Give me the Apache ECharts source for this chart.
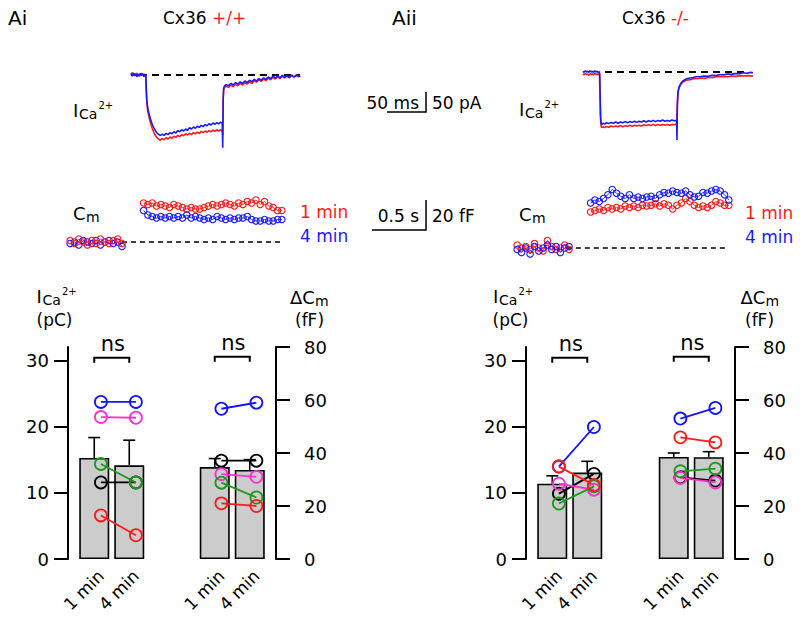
<!DOCTYPE html>
<html><head><meta charset="utf-8">
<script src="https://cdn.jsdelivr.net/npm/echarts@6/dist/echarts.min.js"></script>
<style>html,body{margin:0;padding:0;background:#fff}#c{width:800px;height:622px}</style>
</head><body><div id="c"></div>
<script>
// ================= DATA =================
const conditions = ['1 min', '4 min'];
// cell colours / drawing order used in the paired plots
const cellColors = ['#1414ff', '#000000', '#ff30d0', '#1a9a1a', '#ff1a1a'];

// ---- bar panels (values per cell: [1 min, 4 min]) ----
const wtIcaMean = [15.3, 14.2];
const wtIcaSem = [3.1, 3.8];
const wtIcaCells = [[23.8, 23.8], [11.6, 11.6], [21.5, 21.4], [14.4, 11.6], [6.6, 3.6]];
const wtCmMean = [34.7, 33.6];
const wtCmSem = [3.2, 3.9];
const wtCmCells = [[56.7, 59.0], [37.1, 37.1], [32.0, 31.0], [28.8, 23.2], [21.0, 20.0]];
const koIcaMean = [11.4, 13.1];
const koIcaSem = [1.2, 1.7];
const koIcaCells = [[14.0, 20.0], [9.9, 12.9], [11.4, 10.5], [8.4, 11.0], [14.0, 11.2]];
const koCmMean = [38.5, 38.4];
const koCmSem = [1.5, 2.1];
const koCmCells = [[53.0, 57.0], [30.8, 29.6], [30.6, 28.9], [33.1, 34.1], [45.9, 44.0]];
const icaTicks = [0, 10, 20, 30];
const cmTicks = [0, 20, 40, 60, 80];
const sigLabel = 'ns';

// ---- current traces [ms, pA] ----
const wtCurBlue = [[0,4],[1.5,-3],[3,5],[4.5,-2],[6,3],[7.5,-4],[9,2],[10.5,-3],[12,4],[13.5,-1],[15,3],[16.5,-4],[18,2],[19,0],
[19.6,-35],[20.3,-65],[21.3,-80],[22.5,-92],[25,-110],[27.5,-125],[30,-135],[32.5,-143],[35,-148],[37.5,-151],[40,-148],[42.5,-151],[45,-146],[47.5,-149],[50,-144],[52.5,-147],[55,-142],[57.5,-145],[60,-139],[62.5,-142],[65,-137],[67.5,-140],[70,-135],[72.5,-138],[75,-132],[77.5,-135],[80,-130],[82.5,-133],[85,-128],[87.5,-131],[90,-126],[92.5,-129],[95,-124],[97.5,-127],[100,-122],[102.5,-125],[105,-120],[107.5,-123],[110,-119],[112.5,-122],[115,-118],[117,-121],
[117.6,-182],[118.2,-60],[118.8,-32],[120,-27],[122,-24],[125,-27],[128,-21],[131,-25],[134,-19],[137,-23],[140,-17],[143,-21],[146,-15],[149,-19],[152,-13],[155,-17],[158,-11],[161,-15],[164,-9],[167,-13],[170,-7],[173,-11],[176,-5],[179,-9],[182,-3],[185,-8],[188,-2],[191,-7],[194,-1],[197,-6],[200,-2],[203,-7],[206,0],[209,-5],[212,-1],[215,-4],[217,-2]];
const wtCurRed = [[0,2],[1.5,6],[3,-2],[4.5,4],[6,-1],[7.5,5],[9,-3],[10.5,3],[12,-2],[13.5,5],[15,-1],[16.5,2],[18,-3],[19,0],
[19.6,-40],[20.3,-70],[21.3,-88],[22.5,-100],[25,-120],[27.5,-135],[30,-147],[32.5,-155],[35,-160],[37.5,-163],[40,-159],[42.5,-162],[45,-157],[47.5,-160],[50,-155],[52.5,-158],[55,-153],[57.5,-156],[60,-151],[62.5,-154],[65,-149],[67.5,-152],[70,-147],[72.5,-150],[75,-146],[77.5,-149],[80,-144],[82.5,-147],[85,-143],[87.5,-146],[90,-141],[92.5,-144],[95,-140],[97.5,-143],[100,-139],[102.5,-142],[105,-138],[107.5,-141],[110,-137],[112.5,-140],[115,-137],[117,-139],
[117.6,-150],[118.2,-58],[118.8,-36],[120,-31],[122,-28],[125,-31],[128,-25],[131,-29],[134,-23],[137,-27],[140,-21],[143,-25],[146,-19],[149,-23],[152,-17],[155,-21],[158,-14],[161,-18],[164,-12],[167,-16],[170,-10],[173,-14],[176,-8],[179,-12],[182,-6],[185,-10],[188,-4],[191,-9],[194,-3],[197,-7],[200,-2],[203,-6],[206,-1],[209,-5],[212,0],[215,-4],[217,-2]];
const koCurBlue = [[0,2],[1.5,-1],[3,3],[4.5,0],[6,2],[7.5,-1],[9,3],[10.5,0],[12,2],[13.5,-1],[15,3],[16.5,0],[18,2],[19.5,-1],[21,1],[21.6,0],
[22,-60],[22.5,-110],[23.2,-128],[24,-131],[26,-128],[28,-130],[30,-127],[33,-129],[36,-126],[39,-128],[42,-125],[45,-128],[48,-125],[51,-127],[54,-124],[57,-127],[60,-124],[63,-126],[66,-123],[69,-126],[72,-123],[75,-125],[78,-122],[81,-125],[84,-122],[87,-124],[90,-121],[93,-124],[96,-121],[99,-123],[102,-120],[105,-123],[108,-121],[111,-123],[114,-120],[117,-122],[120,-121],
[120.5,-170],[121,-80],[121.8,-50],[123,-38],[125,-30],[127,-24],[130,-20],[133,-17],[137,-15],[141,-14],[145,-12],[150,-12],[155,-10],[160,-11],[165,-8],[170,-9],[175,-7],[180,-7],[185,-5],[190,-6],[195,-4],[200,-4],[205,-2],[210,-3],[215,-1],[218,-2]];
const koCurRed = [[0,-5],[1.5,-7],[3,-4],[4.5,-6],[6,-5],[7.5,-8],[9,-4],[10.5,-6],[12,-5],[13.5,-7],[15,-3],[16.5,-6],[18,-5],[19.5,-7],[21,-4],[21.6,-6],
[22,-70],[22.5,-118],[23.2,-136],[24,-139],[26,-137],[28,-139],[30,-136],[33,-138],[36,-135],[39,-137],[42,-135],[45,-137],[48,-134],[51,-137],[54,-134],[57,-136],[60,-133],[63,-136],[66,-133],[69,-135],[72,-133],[75,-135],[78,-132],[81,-134],[84,-132],[87,-134],[90,-131],[93,-134],[96,-131],[99,-133],[102,-131],[105,-133],[108,-131],[111,-133],[114,-131],[117,-132],[120,-131],
[120.7,-90],[121.5,-58],[122.5,-44],[124,-36],[126,-29],[128,-25],[131,-22],[134,-20],[138,-19],[142,-17],[146,-17],[151,-15],[156,-16],[161,-13],[166,-14],[171,-12],[176,-12],[181,-11],[186,-12],[191,-10],[196,-11],[201,-9],[206,-10],[211,-9],[218,-10]];
const wtCurBaseline = [[11.5, 0], [216.7, 0]];
const koCurBaseline = [[28.2, 0], [207.7, 0]];
const curScaleBar = [[328.2, -92.5, 50, 50]];           // t0, y0, 50 ms, 50 pA
const curScaleText = ['50 ms', '50 pA'];

// ---- capacitance traces [s, fF] ----
const tPre = [0.02,0.06,0.10,0.14,0.18,0.22,0.26,0.30,0.34,0.38,0.42,0.46,0.50];
const tPost = [0.70,0.74,0.78,0.82,0.86,0.90,0.94,0.98,1.02,1.06,1.10,1.14,1.18,1.22,1.26,1.30,1.34,1.38,1.42,1.46,1.50,1.54,1.58,1.62,1.66,1.70,1.74,1.78,1.82,1.86,1.90,1.94,1.98];
const wtCmRedPre = [1,-1,2,0,-2,1,-1,2,0,-1,1,2,-1];
const wtCmBluePre = [-1,0,-2,1,0,-1,1,-2,0,1,-1,0,-3];
const wtCmRedPost = [26,25,26,24,25,24,23,25,24,23,22,23,22,22,23,24,25,24,25,26,25,24,26,25,27,26,28,25,27,24,23,21,21];
const wtCmBluePost = [21,18,17,16,17,16,17,16,17,16,18,16,17,16,15,16,15,17,16,15,16,15,16,16,17,15,14,14,15,14,14,15,15];
const koCmRedPre = [2,0,1,-1,3,0,-2,5,1,-1,0,2,-1];
const koCmBluePre = [-1,-3,0,-4,1,-2,0,2,-1,1,-3,0,1];
const koCmRedPost = [24,25,26,25,27,26,27,26,28,27,28,27,28.5,28,28.5,29.5,28,29.5,28.5,26,28.5,30,33,31,28.5,27,28,27,28.5,31,30,28.5,28.5];
const koCmBluePost = [30,32,31,33,35.5,39,36.5,34.5,33,35.5,33,34,33,34,34.5,33,35.5,37,36.5,38,37,36.5,38,35.5,34,34.5,37,36.5,38,39,38,35.5,32];
const wtCmBaseline = [[0.5, 0], [1.99, 0]];
const koCmBaseline = [[0.48, 0], [1.963, 0]];
const cmScaleBar = [[2.815, 8, 0.5, 20]];              // t0, y0, 0.5 s, 20 fF
const cmScaleText = ['0.5 s', '20 fF'];

// ================= STYLE =================
const FONT = 'DejaVu Sans';
const RED = '#ff1a1a', BLUE = '#1a1aff';
const DOT_OFFSET = 0.19;
const pair = (ts, vs) => ts.map((t, i) => [t, vs[i]]);

function hiddenAxis(gi, min, max) {
  return {type: 'value', gridIndex: gi, min, max, show: false, splitLine: {show: false}};
}

function renderScaleBar(texts) {
  return function (params, api) {
    const t0 = api.value(0), y0 = api.value(1), dt = api.value(2), dy = api.value(3);
    const p0 = api.coord([t0, y0]), p1 = api.coord([t0 + dt, y0]), p2 = api.coord([t0 + dt, y0 + dy]);
    const my = (p1[1] + p2[1]) / 2 + 1;
    return {type: 'group', children: [
      {type: 'polyline', shape: {points: [p0, p1, p2]}, style: {stroke: '#000', lineWidth: 1.5, fill: 'none'}},
      {type: 'text', x: p1[0] - 7, y: my, style: {text: texts[0], fontSize: 17, fontFamily: FONT, fill: '#000', align: 'right', verticalAlign: 'middle'}},
      {type: 'text', x: p1[0] + 6, y: my, style: {text: texts[1], fontSize: 17, fontFamily: FONT, fill: '#000', align: 'left', verticalAlign: 'middle'}}
    ]};
  };
}

function renderErr(params, api) {
  const x = api.value(0), m = api.value(1), e = api.value(2);
  const p0 = api.coord([x, m]), p1 = api.coord([x, m + e]);
  return {type: 'group', children: [
    {type: 'line', shape: {x1: p0[0], y1: p0[1], x2: p1[0], y2: p1[1]}, style: {stroke: '#000', lineWidth: 1.6}},
    {type: 'line', shape: {x1: p1[0] - 6, y1: p1[1], x2: p1[0] + 6, y2: p1[1]}, style: {stroke: '#000', lineWidth: 1.6}}
  ]};
}

function renderBracket(params, api) {
  const a = api.coord([api.value(0), api.value(2)]), b = api.coord([api.value(1), api.value(2)]);
  return {type: 'group', children: [
    {type: 'polyline', shape: {points: [[a[0], a[1] + 5], a, b, [b[0], b[1] + 5]]}, style: {stroke: '#000', lineWidth: 2, fill: 'none'}},
    {type: 'text', x: (a[0] + b[0]) / 2 + 1, y: a[1] - 14, style: {text: sigLabel, fontSize: 21, fontFamily: FONT, fill: '#000', align: 'center', verticalAlign: 'middle'}}
  ]};
}

const grids = [
  {left: 131, top: 60, width: 300, height: 100},   // 0 Ai current
  {left: 583, top: 57, width: 172, height: 100},   // 1 Aii current
  {left: 68, top: 194, width: 360, height: 60},    // 2 Ai Cm
  {left: 515, top: 179, width: 240, height: 81},   // 3 Aii Cm
  {left: 68, top: 347, width: 80.5, height: 212},  // 4 Ai ICa bars
  {left: 195.5, top: 347, width: 80.5, height: 212}, // 5 Ai dCm bars
  {left: 526, top: 347, width: 80.5, height: 212}, // 6 Aii ICa bars
  {left: 654.5, top: 347, width: 80.5, height: 212} // 7 Aii dCm bars
].map(g => Object.assign({containLabel: false, outerBoundsMode: 'none'}, g));

function barXAxis(gi, min, max) {
  return {type: 'value', gridIndex: gi, min, max,
    axisLine: {show: false}, axisTick: {show: false}, splitLine: {show: false},
    axisLabel: {show: true, customValues: [1 + DOT_OFFSET, 2 + DOT_OFFSET],
      formatter: v => conditions[Math.round(v - DOT_OFFSET) - 1],
      rotate: 45, margin: 14, fontSize: 17, fontFamily: FONT, color: '#000'}};
}
function barYAxis(gi, max, ticks, pos) {
  return {type: 'value', gridIndex: gi, min: 0, max, position: pos,
    axisLine: {show: true, onZero: false, lineStyle: {color: '#000', width: 2}},
    axisTick: {show: true, length: 14, inside: false, customValues: ticks, lineStyle: {color: '#000', width: 2}},
    axisLabel: {show: true, customValues: ticks, margin: pos === 'left' ? 19 : 28, fontSize: 18, fontFamily: FONT, color: '#000'},
    splitLine: {show: false}};
}

const xAxes = [
  hiddenAxis(0, 0, 384.6), hiddenAxis(1, 0, 220.5), hiddenAxis(2, 0, 3.3333), hiddenAxis(3, 0, 2.2222),
  barXAxis(4, 0.25, 2.55), barXAxis(5, 0.45, 2.75), barXAxis(6, 0.25, 2.55), barXAxis(7, 0.45, 2.75)
];
const yAxes = [
  hiddenAxis(0, -212.5, 37.5), hiddenAxis(1, -212.5, 37.5), hiddenAxis(2, -8, 32), hiddenAxis(3, -8, 46),
  barYAxis(4, 32.12, icaTicks, 'left'), barYAxis(5, 80, cmTicks, 'right'),
  barYAxis(6, 32.12, icaTicks, 'left'), barYAxis(7, 80, cmTicks, 'right')
];

const series = [];
function traceLine(ai, data, color, width) {
  series.push({type: 'line', xAxisIndex: ai, yAxisIndex: ai, data, showSymbol: false, symbol: 'none',
    lineStyle: {color, width}, silent: true});
}
function dashLine(ai, data, width, dash) {
  series.push({type: 'line', xAxisIndex: ai, yAxisIndex: ai, data, showSymbol: false, symbol: 'none',
    lineStyle: {color: '#000', width, type: dash}, silent: true});
}
function cmTrace(ai, data, color) {
  series.push({type: 'line', xAxisIndex: ai, yAxisIndex: ai, data, symbol: 'circle', symbolSize: 6.5, showSymbol: true,
    itemStyle: {color: 'rgba(255,255,255,0)', borderColor: color, borderWidth: 1.1},
    lineStyle: {color, width: 0.9}, silent: true});
}

// current traces
dashLine(0, wtCurBaseline, 2, [7, 5]);
traceLine(0, wtCurRed, RED, 1.6);
traceLine(0, wtCurBlue, BLUE, 1.6);
dashLine(1, koCurBaseline, 2, [7, 5]);
traceLine(1, koCurRed, RED, 1.6);
traceLine(1, koCurBlue, BLUE, 1.6);
series.push({type: 'custom', xAxisIndex: 0, yAxisIndex: 0, data: curScaleBar, renderItem: renderScaleBar(curScaleText), silent: true});

// capacitance traces
dashLine(2, wtCmBaseline, 1.3, [5, 4]);
cmTrace(2, pair(tPre, wtCmBluePre), BLUE);
cmTrace(2, pair(tPre, wtCmRedPre), RED);
cmTrace(2, pair(tPost, wtCmRedPost), RED);
cmTrace(2, pair(tPost, wtCmBluePost), BLUE);
dashLine(3, koCmBaseline, 1.3, [5, 4]);
cmTrace(3, pair(tPre, koCmRedPre), RED);
cmTrace(3, pair(tPre, koCmBluePre), BLUE);
cmTrace(3, pair(tPost, koCmRedPost), RED);
cmTrace(3, pair(tPost, koCmBluePost), BLUE);
series.push({type: 'custom', xAxisIndex: 2, yAxisIndex: 2, data: cmScaleBar, renderItem: renderScaleBar(cmScaleText), silent: true});

// bar panels
function barPanel(ai, mean, sem, cells, bracketY) {
  series.push({type: 'bar', xAxisIndex: ai, yAxisIndex: ai, data: mean.map((v, i) => [i + 1, v]), barWidth: 30,
    itemStyle: {color: '#cccccc', borderColor: '#000', borderWidth: 1.6}, silent: true});
  series.push({type: 'custom', xAxisIndex: ai, yAxisIndex: ai, data: mean.map((v, i) => [i + 1, v, sem[i]]),
    renderItem: renderErr, silent: true, z: 3});
  cells.forEach((c, k) => {
    series.push({type: 'line', xAxisIndex: ai, yAxisIndex: ai, z: 4,
      data: c.map((v, i) => [i + 1 + DOT_OFFSET, v]), symbol: 'circle', symbolSize: 12, showSymbol: true,
      itemStyle: {color: 'rgba(255,255,255,0)', borderColor: cellColors[k], borderWidth: 1.8},
      lineStyle: {color: cellColors[k], width: 1.8}, silent: true});
  });
  series.push({type: 'custom', xAxisIndex: ai, yAxisIndex: ai, data: [[1, 2, bracketY]],
    encode: {x: [0, 1], y: 2}, renderItem: renderBracket, silent: true});
}
barPanel(4, wtIcaMean, wtIcaSem, wtIcaCells, 30.5);
barPanel(5, wtCmMean, wtCmSem, wtCmCells, 76.3);
barPanel(6, koIcaMean, koIcaSem, koIcaCells, 30.5);
barPanel(7, koCmMean, koCmSem, koCmCells, 76.3);

// ---- text annotations ----
function txt(x, y, text, size, color, extra) {
  return Object.assign({type: 'text', x, y, silent: true,
    style: {text, fontSize: size, fontFamily: FONT, fill: color || '#000', align: 'left', verticalAlign: 'middle'}}, extra || {});
}
function icaLabel(x, y) {
  return [txt(x, y, 'I', 18), txt(x + 6, y + 4, 'Ca', 14), txt(x + 25.5, y - 5, '2+', 10)];
}
function cmLabel(x, y, delta) {
  const head = delta ? '\u0394C' : 'C';
  const w = delta ? 25 : 13;
  return [txt(x, y, head, 18), txt(x + w, y + 3.5, 'm', 14)];
}
const elements = [].concat(
  [txt(8, 18, 'Ai', 20), txt(392, 18, 'Aii', 20),
   {type: 'text', x: 163, y: 18, silent: true, style: {text: '{k|Cx36 }{r|+/+}', fontSize: 17, fontFamily: FONT, verticalAlign: 'middle',
     rich: {k: {fill: '#000', fontSize: 17, fontFamily: FONT}, r: {fill: RED, fontSize: 17, fontFamily: FONT}}}},
   {type: 'text', x: 622, y: 18, silent: true, style: {text: '{k|Cx36 }{r|-/-}', fontSize: 17, fontFamily: FONT, verticalAlign: 'middle',
     rich: {k: {fill: '#000', fontSize: 17, fontFamily: FONT}, r: {fill: RED, fontSize: 17, fontFamily: FONT}}}},
   txt(300, 212, '1 min', 17, RED), txt(300, 236, '4 min', 17, BLUE),
   txt(745, 213, '1 min', 17, RED), txt(745, 237, '4 min', 17, BLUE),
   txt(36.5, 320, '(pC)', 17), txt(492.5, 320, '(pC)', 17),
   txt(295, 320, '(fF)', 17), txt(745, 320, '(fF)', 17)],
  icaLabel(73, 110), icaLabel(519, 109), icaLabel(36.5, 296), icaLabel(493, 296),
  cmLabel(73, 213, false), cmLabel(519, 214, false),
  cmLabel(290, 297, true), cmLabel(740.5, 297, true)
);

const chart = echarts.init(document.getElementById('c'), null, {renderer: 'svg'});
chart.setOption({
  animation: false,
  backgroundColor: '#ffffff',
  textStyle: {fontFamily: FONT},
  grid: grids,
  xAxis: xAxes,
  yAxis: yAxes,
  series,
  graphic: {elements}
});
</script>
</body></html>
